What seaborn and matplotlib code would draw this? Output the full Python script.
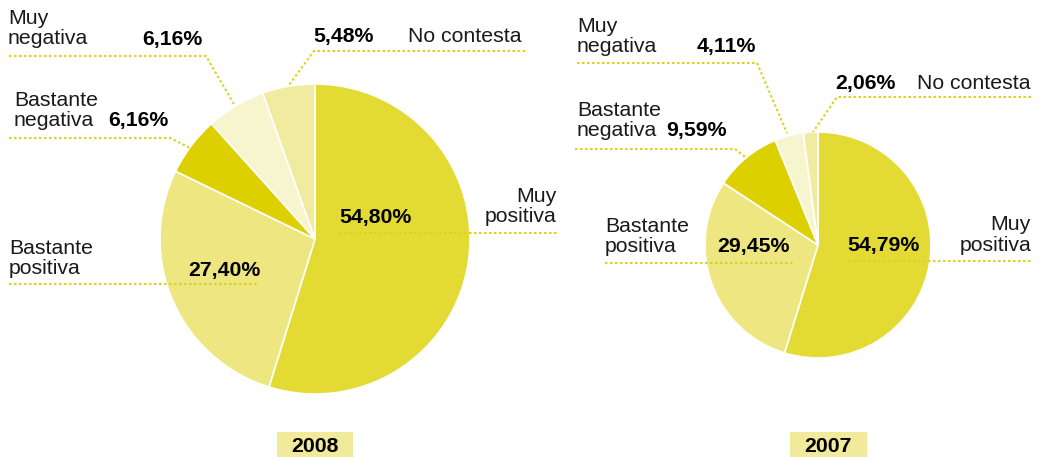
import matplotlib.pyplot as plt
import seaborn as sns
from matplotlib.patches import Rectangle

W, H = 1041, 457

categories = ["Muy positiva", "Bastante positiva", "Bastante negativa", "Muy negativa", "No contesta"]
cat_labels = ["Muy\npositiva", "Bastante\npositiva", "Bastante\nnegativa", "Muy\nnegativa", "No contesta"]
years = ["2008", "2007"]
values_2008 = [54.80, 27.40, 6.16, 6.16, 5.48]
values_2007 = [54.79, 29.45, 9.59, 4.11, 2.06]

colors = sns.color_palette(["#E3DA33", "#EEE680", "#DDD000", "#F7F5CE", "#F0EB9E"])
line_color = "#DDD21E"
box_color = "#F0EA9A"

# layout in pixel coordinates (y down): pie center/radius, label anchors
# (name y = baseline of its last line), leader lines
layout = {
    "2008": {
        "center": (315, 239), "radius": 155, "title_x": 315, "box": (277, 353),
        "name": [(556, 222, "right"), (9, 274, "left"), (14, 126, "left"), (8, 44, "left"), (408, 42, "left")],
        "pct": [(339, 223), (188, 276), (108, 126), (142, 45), (313, 42)],
        "lines": [
            [(339, 233), (557, 233)],
            [(9, 284), (257, 284)],
            [(9, 138), (170, 138), (190, 148)],
            [(9, 56), (206, 56), (235, 106)],
            [(525, 51), (314, 51), (289, 85)],
        ],
    },
    "2007": {
        "center": (818, 245), "radius": 113, "title_x": 828, "box": (790, 867),
        "name": [(1031, 251, "right"), (605, 252, "left"), (577, 136, "left"), (577, 52, "left"), (917, 89, "left")],
        "pct": [(847, 251), (717, 252), (666, 136), (697, 52), (835, 89)],
        "lines": [
            [(848, 261), (1031, 261)],
            [(605, 263), (793, 263)],
            [(575, 149), (735, 149), (745, 157)],
            [(577, 63), (757, 63), (787, 133)],
            [(1031, 97), (837, 97), (813, 132)],
        ],
    },
}

sns.set_theme(style="white")
plt.rcParams["font.family"] = ["Liberation Sans", "DejaVu Sans"]

fig = plt.figure(figsize=(W / 100, H / 100), dpi=100)
ax = fig.add_axes([0, 0, 1, 1])

for year, values in zip(years, [values_2008, values_2007]):
    lay = layout[year]
    # y axis is inverted later, so counterclock=True draws clockwise on screen
    ax.pie(
        values,
        colors=colors,
        startangle=-90,
        counterclock=True,
        center=lay["center"],
        radius=lay["radius"],
        wedgeprops=dict(edgecolor="white", linewidth=1.2),
        frame=True,
    )
    for i, v in enumerate(values):
        nx, ny, ha = lay["name"][i]
        ax.text(nx, ny, cat_labels[i], ha=ha, va="baseline", fontsize=15.3,
                color="#1a1a1a", linespacing=1.1)
        px, py = lay["pct"][i]
        pct = f"{v:.2f}".replace(".", ",") + "%"
        ax.text(px, py, pct, ha="left", va="baseline", fontsize=15.3,
                fontweight="bold", color="black")
        xs, ys = zip(*lay["lines"][i])
        ax.plot(xs, ys, color=line_color, lw=1.5, linestyle=(0, (1.2, 1.2)))
    bx0, bx1 = lay["box"]
    ax.add_patch(Rectangle((bx0, 432), bx1 - bx0, 26, facecolor=box_color, edgecolor="none"))
    ax.text(lay["title_x"], 452, year, ha="center", va="baseline", fontsize=15.3,
            fontweight="bold", color="black")

ax.set_xlim(0, W)
ax.set_ylim(H, 0)
ax.set_aspect("equal")
ax.axis("off")
fig.savefig("out.png", dpi=100)
